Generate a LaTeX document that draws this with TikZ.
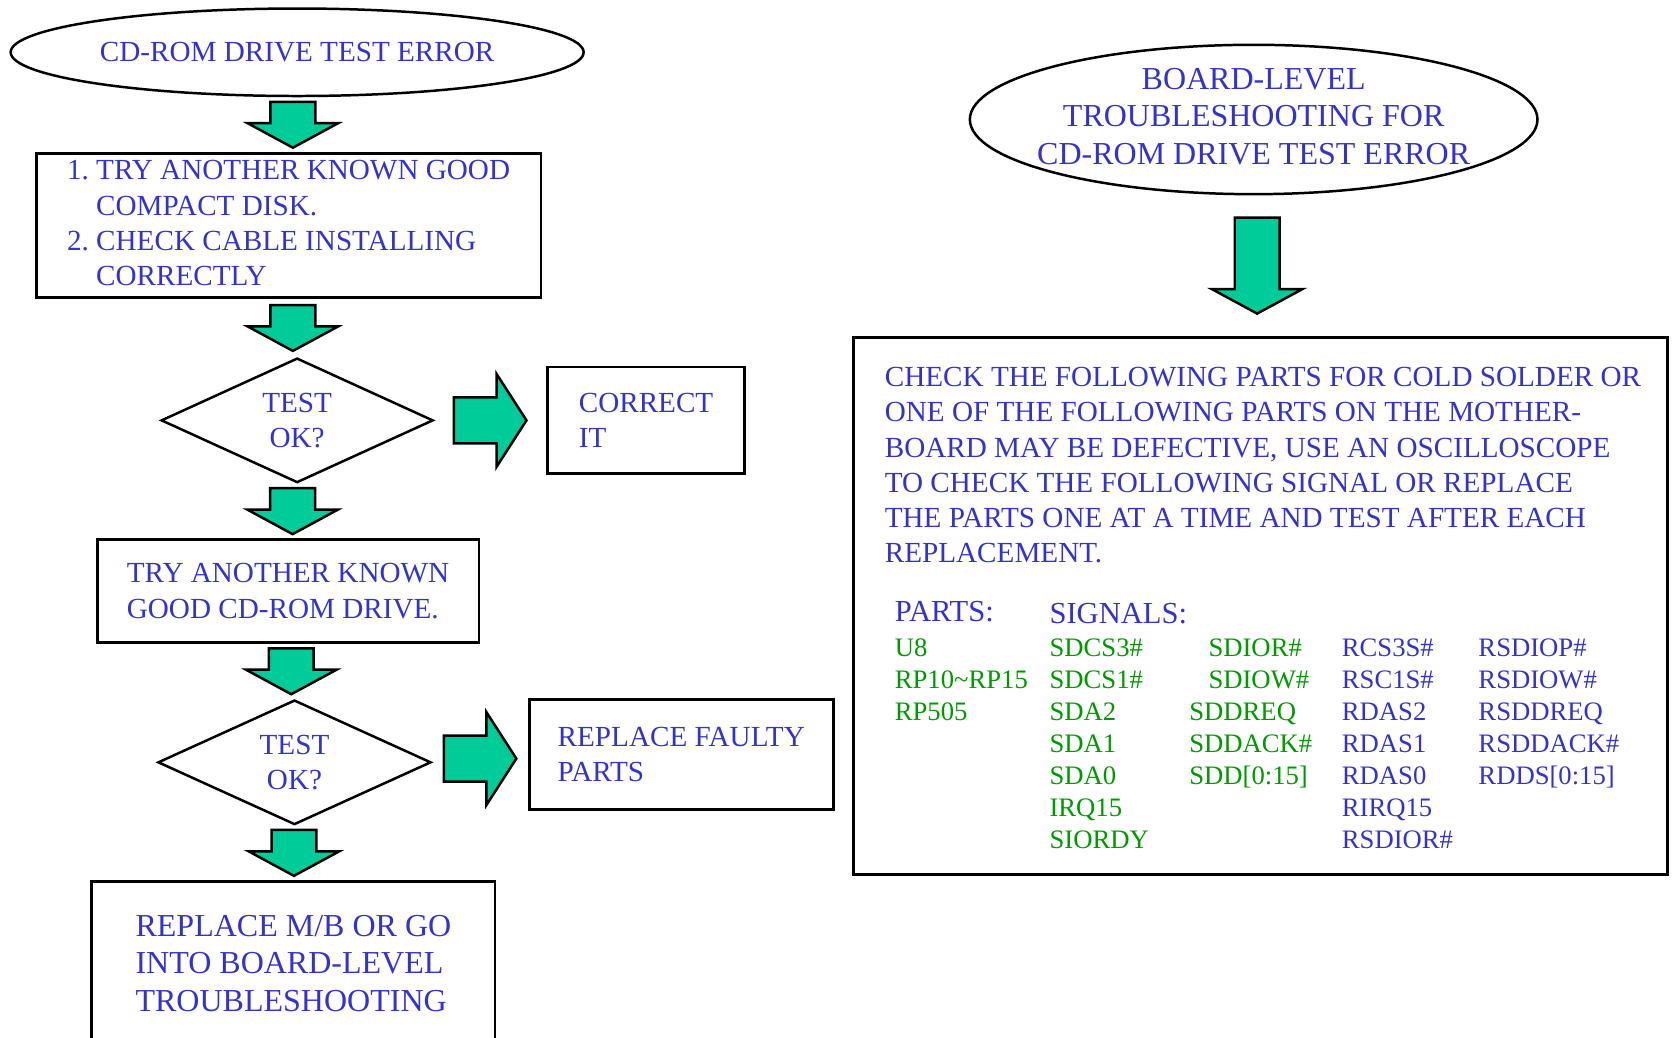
\documentclass[tikz,border=0pt]{standalone}
\usepackage{fontspec}
\setmainfont{Liberation Serif}
\usepackage{xcolor}
\usepackage{tikz}
\usetikzlibrary{positioning,shapes.geometric,calc}

\definecolor{txtblue}{RGB}{51,51,204}
\definecolor{txtgreen}{RGB}{0,153,0}
\definecolor{arrowgreen}{RGB}{0,204,153}

\begin{document}
\begin{tikzpicture}[
    x=0.3pt, y=-0.3pt,
    every node/.style={text=txtblue, font=\fontsize{8.2}{9.9}\selectfont},
    dims/.style 2 args={minimum width=#1*0.3pt, minimum height=#2*0.3pt},
    box/.style={draw, rectangle, line width=0.8pt, align=left, inner sep=0pt},
    term/.style={draw, ellipse, line width=0.7pt, inner sep=0pt},
    decision/.style={draw, diamond, line width=0.7pt, align=center, inner sep=0pt},
    head/.style={anchor=west, inner sep=0pt, font=\fontsize{8.6}{9}\selectfont},
    sig/.style={anchor=north west, align=left, inner sep=0pt, text=txtgreen,
      font=\fontsize{7.5}{9}\selectfont},
    sigr/.style={sig, text=txtblue},
    blkarrow/.style={draw, fill=arrowgreen, line width=0.7pt, line join=miter},
    pics/downblk/.style={code={
      \draw[blkarrow] (-21,-#1) -- (21,-#1) -- (21,#1-23) -- (42.5,#1-23) -- (0,#1)
        -- (-42.5,#1-23) -- (-21,#1-23) -- cycle;
    }},
    pics/rightblk/.style={code={
      \draw[blkarrow] (-#1,-21.5) -- (#1-28,-21.5) -- (#1-28,-43.5) -- (#1,0)
        -- (#1-28,43.5) -- (#1-28,21.5) -- (-#1,21.5) -- cycle;
    }}
  ]
    \useasboundingbox (0,0) rectangle (1568,972);

    % left flow
    \node[term, dims={537}{82}] (start) at (278.5,49) {CD-ROM DRIVE TEST ERROR};
    \node[box, dims={473}{135}] (check) at (270.5,211.5)
      {\begin{tabular}{@{}l@{\ }l@{}}1. & TRY ANOTHER KNOWN GOOD\\ & COMPACT DISK.\\
        2. & CHECK CABLE INSTALLING\\ & CORRECTLY\end{tabular}};
    \node[decision, dims={255}{114}] (test1) at (278.5,394) {TEST\\OK?};
    \node[box, dims={185}{100}] (fixit) at (605.5,394) {CORRECT\\IT};
    \node[box, dims={358}{96}] (retry) at (270,554) {TRY ANOTHER KNOWN\\GOOD CD-ROM DRIVE.};
    \node[decision, dims={256}{115}] (test2) at (276,714.5) {TEST\\OK?};
    \node[box, dims={285}{103}] (replace) at (638.5,707.5) {REPLACE FAULTY\\PARTS};
    \node[box, dims={378}{154}, font=\fontsize{9}{10.65}\selectfont] (goboard) at (275,903)
      {REPLACE M/B OR GO\\INTO BOARD-LEVEL\\TROUBLESHOOTING};

    \pic at ($(start.south)!0.5!(check.north)$) {downblk=21.5};
    \pic at ($(check.south)!0.5!(test1.north)$) {downblk=21.5};
    \pic at ($(test1.east)!0.5!(fixit.west)$) {rightblk=34};
    \pic at ($(test1.south)!0.5!(retry.north)$) {downblk=21.5};
    \pic at ($(retry.south)!0.5!(test2.north)$) {downblk=21.5};
    \pic at ($(test2.east)!0.5!(replace.west)$) {rightblk=34};
    \pic at ($(test2.south)!0.5!(goboard.north)$) {downblk=21.5};

    % board-level side
    \node[term, dims={532}{140}, font=\fontsize{9}{10.65}\selectfont] (board) at (1175,112)
      {\smash{\makebox[0pt]{\raisebox{-2.2pt}{\begin{tabular}{@{}c@{}}BOARD-LEVEL\\
        TROUBLESHOOTING FOR\\CD-ROM DRIVE TEST ERROR\end{tabular}}}}};
    \node[box, dims={763}{504}] (parts) at (1181.5,568) {};
    \pic at ($(board.south)!0.5!(parts.north)$) {downblk=45};

    \node[anchor=north west, align=left, inner sep=0pt] (advice) at ($(parts.north west)+(30,29)$)
      {CHECK THE FOLLOWING PARTS FOR COLD SOLDER OR\\
       ONE OF THE FOLLOWING PARTS ON THE MOTHER-\\
       BOARD MAY BE DEFECTIVE, USE AN OSCILLOSCOPE\\
       TO CHECK THE FOLLOWING SIGNAL OR REPLACE\\
       THE PARTS ONE AT A TIME AND TEST AFTER EACH\\
       REPLACEMENT.};

    \node[head] (partshead) at (838,573) {PARTS:};
    \node[head] (sighead) at (983,575) {SIGNALS:};
    \node[sig] (partlist) at (838,598) {U8\\RP10\textasciitilde RP15\\RP505};
    \node[sig] (sigA) at (983,598) {SDCS3\#\\SDCS1\#\\SDA2\\SDA1\\SDA0\\IRQ15\\SIORDY};
    \node[sig] (sigB) at (1132,598) {SDIOR\#\\SDIOW\#};
    \node[sig] (sigC) at (1114,658) {SDDREQ\\SDDACK\#\\SDD[0:15]};
    \node[sigr] (sigD) at (1257,598) {RCS3S\#\\RSC1S\#\\RDAS2\\RDAS1\\RDAS0\\RIRQ15\\RSDIOR\#};
    \node[sigr] (sigE) at (1385,598) {RSDIOP\#\\RSDIOW\#\\RSDDREQ\\RSDDACK\#\\RDDS[0:15]};
\end{tikzpicture}
\end{document}
